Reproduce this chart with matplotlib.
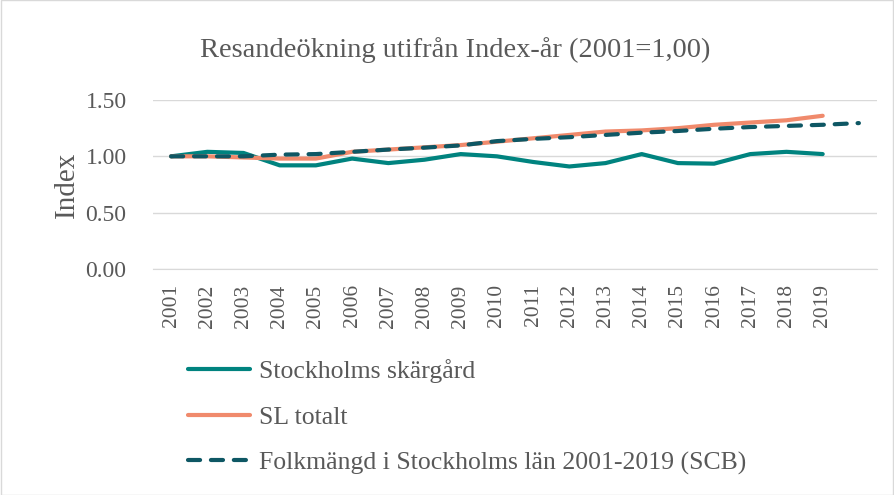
import matplotlib
matplotlib.use("Agg")
import matplotlib.pyplot as plt
import numpy as np

plt.rcParams['font.family'] = ['Liberation Serif', 'DejaVu Serif']

years = ['2001', '2002', '2003', '2004', '2005', '2006', '2007', '2008', '2009', '2010',
         '2011', '2012', '2013', '2014', '2015', '2016', '2017', '2018', '2019', '']
skargard = [1.00, 1.04, 1.03, 0.92, 0.92, 0.98, 0.94, 0.97, 1.02, 1.00,
            0.95, 0.91, 0.94, 1.02, 0.94, 0.935, 1.02, 1.04, 1.02]
sl_totalt = [1.00, 1.00, 0.99, 0.98, 0.98, 1.04, 1.06, 1.08, 1.10, 1.13,
             1.16, 1.19, 1.22, 1.23, 1.25, 1.28, 1.30, 1.32, 1.36]
folkmangd = [1.00, 1.00, 1.00, 1.015, 1.02, 1.04, 1.06, 1.077, 1.097, 1.135,
             1.155, 1.17, 1.19, 1.21, 1.225, 1.245, 1.26, 1.27, 1.28, 1.295]
yticks = [0.0, 0.5, 1.0, 1.5]
ytick_labels = ['0.00', '0.50', '1.00', '1.50']

title = 'Resandeökning utifrån Index-år (2001=1,00)'
names = ['Stockholms skärgård', 'SL totalt', 'Folkmängd i Stockholms län 2001-2019 (SCB)']
colors = ['#00837F', '#F08A6C', '#0E5764']
txt = '#595959'

fig = plt.figure(figsize=(8.94, 4.95), dpi=100)
ax = fig.add_axes([153/894, 1 - 269/495, (877-153)/894, (269-100)/495])

x = np.arange(len(years))
l1, = ax.plot(x[:len(skargard)], skargard, color=colors[0], lw=3.0, solid_capstyle='round')
l2, = ax.plot(x[:len(sl_totalt)], sl_totalt, color=colors[1], lw=3.0, solid_capstyle='round')
l3, = ax.plot(x[:len(folkmangd)], folkmangd, color=colors[2], lw=3.0, dashes=(2.9, 2.6),
              dash_capstyle='round')

ax.set_xlim(-0.5, len(years) - 0.5)
ax.set_ylim(0, 1.5)
ax.set_yticks(yticks)
ax.set_yticklabels(ytick_labels)
ax.set_xticks(x)
ax.set_xticklabels(years, rotation=90)
ax.tick_params(axis='both', length=0, colors=txt)
ax.tick_params(axis='x', labelsize=15.5, pad=11)
ax.tick_params(axis='y', labelsize=17, pad=19)
ax.grid(axis='y', color='#D9D9D9', lw=1)
ax.set_axisbelow(True)
for s in ['top', 'right', 'left']:
    ax.spines[s].set_visible(False)
ax.spines['bottom'].set_color('#D9D9D9')
ax.set_ylabel('Index', fontsize=21, color=txt, labelpad=4)
fig.text(455/894, 1 - 50/495, title, ha='center', va='center', fontsize=20.5, color=txt)

fig.legend([l1, l2, l3], names, loc='upper left', bbox_to_anchor=(178/894, 1 - 349/495),
           frameon=False, fontsize=18.5, labelcolor=txt, handlelength=2.4, labelspacing=0.88,
           handletextpad=0.35, borderaxespad=0)

fig.patches.append(plt.Rectangle((0.001, 0.001), 0.998, 0.998, transform=fig.transFigure,
                                 fill=False, edgecolor='#D9D9D9', lw=1))
fig.savefig('out.png', dpi=100)
